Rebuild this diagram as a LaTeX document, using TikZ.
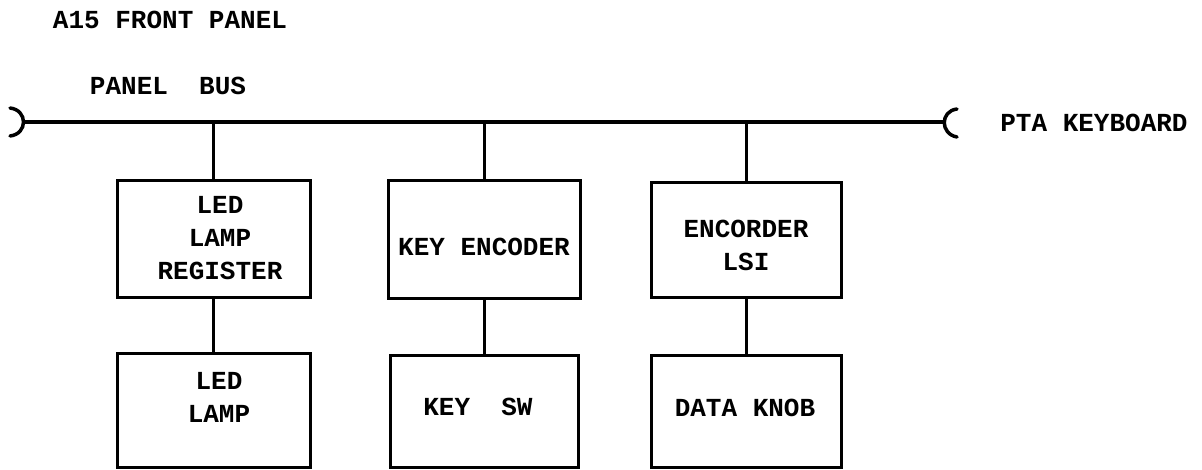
\documentclass[tikz,border=0pt]{standalone}
\usepackage{fontspec}
\setmonofont{Liberation Mono}
\begin{document}
\begin{tikzpicture}[x=1pt,y=-1pt,
  txt/.style={font=\ttfamily\bfseries\fontsize{26}{33}\selectfont, inner sep=0pt, align=center},
  blk/.style={draw, line width=3pt, inner sep=0pt},
  wire/.style={line width=3pt},
  bus/.style={line width=3.5pt}]
\useasboundingbox (0,0) rectangle (1202,469);
% title texts
\node[txt] (title) at (170,20) {A15 FRONT PANEL};
\node[txt] (busname) at (168,86) {PANEL\ \ BUS};
\node[txt] (pta) at (1094,123) {PTA KEYBOARD};
% bus
\coordinate (busL) at (24,122);
\coordinate (busR) at (944,122);
\draw[bus] (busL) -- (busR);
\draw[wire, line width=3.5pt, line cap=round] (10,108) .. controls (28,110) and (28,134) .. (10,136);
\draw[wire, line width=3.5pt, line cap=round] (957,109) .. controls (940,111) and (940,134) .. (957,137);
% boxes
\node[blk, minimum width=193pt, minimum height=117pt] (b1) at (213.5,238.5) {};
\node[blk, minimum width=192pt, minimum height=118pt] (b2) at (484,239) {};
\node[blk, minimum width=190pt, minimum height=115pt] (b3) at (746,239.5) {};
\node[blk, minimum width=193pt, minimum height=114pt] (b4) at (213.5,410) {};
\node[blk, minimum width=188pt, minimum height=112pt] (b5) at (484,411) {};
\node[blk, minimum width=190pt, minimum height=112pt] (b6) at (746,411) {};
% box texts
\node[txt] (t1) at (220,238) {LED\\LAMP\\REGISTER};
\node[txt] (t2) at (484,247) {KEY ENCODER};
\node[txt] (t3) at (746,245) {ENCORDER\\LSI};
\node[txt] (t4) at (219,397) {LED\\LAMP};
\node[txt] (t5) at (478,407) {KEY\ \ SW};
\node[txt] (t6) at (745,408) {DATA KNOB};
% connectors
\draw[wire] (b1.north) -- (b1.north |- busL);
\draw[wire] (b2.north) -- (b2.north |- busL);
\draw[wire] (b3.north) -- (b3.north |- busL);
\draw[wire] (b1.south) -- (b1.south |- b4.north);
\draw[wire] (b2.south) -- (b2.south |- b5.north);
\draw[wire] (b3.south) -- (b3.south |- b6.north);
\end{tikzpicture}
\end{document}
